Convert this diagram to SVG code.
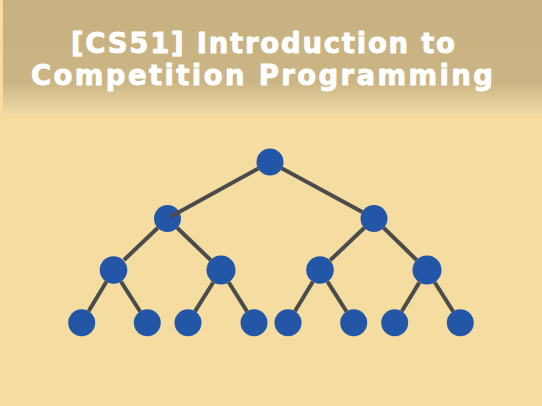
<svg xmlns="http://www.w3.org/2000/svg" width="542" height="406" viewBox="0 0 542 406">
<defs>
<linearGradient id="hdr" x1="0" y1="0" x2="0" y2="1">
<stop offset="0" stop-color="#c7b181"/>
<stop offset="0.72" stop-color="#cbb585"/>
<stop offset="1" stop-color="#efd9a4"/>
</linearGradient>
<style>
.t{font-family:"DejaVu Sans",sans-serif;font-weight:700;font-size:27.5px;fill:#ffffff;stroke:#ffffff;stroke-width:0.9;stroke-linejoin:round;text-anchor:middle}
.n{fill:#2456a8}
.e line{stroke:#4b4b4b;stroke-width:4;stroke-linecap:butt}
</style>
</defs>
<rect width="542" height="406" fill="#f5dca0"/>
<rect x="3" y="0" width="539" height="114" fill="url(#hdr)"/>
<text class="t" x="263" y="52.5" textLength="384" lengthAdjust="spacing">[CS51] Introduction to</text>
<text class="t" x="262" y="85" textLength="462" lengthAdjust="spacing">Competition Programming</text>
<g id="nodes">
<g id="n0"><circle class="n" cx="270" cy="162" r="13.5"/></g>
<g id="n1"><circle class="n" cx="167.5" cy="218.5" r="13.5"/></g>
<g id="n2"><circle class="n" cx="374" cy="218.5" r="13.5"/></g>
<g id="n3"><circle class="n" cx="113.5" cy="270" r="13.8"/></g>
<g id="n4"><circle class="n" cx="221" cy="270" r="14.5"/></g>
<g id="n5"><circle class="n" cx="320" cy="270" r="13.8"/></g>
<g id="n6"><circle class="n" cx="427" cy="270" r="14.5"/></g>
<g id="n7"><circle class="n" cx="81.7" cy="322.7" r="13.5"/></g>
<g id="n8"><circle class="n" cx="147.3" cy="322.7" r="13.5"/></g>
<g id="n9"><circle class="n" cx="188" cy="322.7" r="13.5"/></g>
<g id="n10"><circle class="n" cx="254" cy="322.7" r="13.5"/></g>
<g id="n11"><circle class="n" cx="288" cy="322.7" r="13.5"/></g>
<g id="n12"><circle class="n" cx="353.7" cy="322.7" r="13.5"/></g>
<g id="n13"><circle class="n" cx="394.7" cy="322.7" r="13.5"/></g>
<g id="n14"><circle class="n" cx="460.3" cy="322.7" r="13.5"/></g>
</g>
<g id="connectors" class="e">
<line x1="258.3" y1="168.4" x2="170.5" y2="216.8"/>
<line x1="281.7" y1="168.3" x2="362.3" y2="212.1"/>
<line x1="157.9" y1="227.7" x2="124" y2="260"/>
<line x1="177.1" y1="227.7" x2="210.6" y2="260"/>
<line x1="364.4" y1="227.7" x2="330.2" y2="260.3"/>
<line x1="383.6" y1="227.7" x2="416.6" y2="260"/>
<line x1="106.4" y1="281.8" x2="88.6" y2="311.3"/>
<line x1="121" y1="281.6" x2="140.1" y2="311.5"/>
<line x1="213.3" y1="282.3" x2="195" y2="311.4"/>
<line x1="228.7" y1="282.3" x2="247" y2="311.4"/>
<line x1="312.8" y1="281.8" x2="294.9" y2="311.3"/>
<line x1="327.5" y1="281.6" x2="346.5" y2="311.5"/>
<line x1="419.4" y1="282.4" x2="401.8" y2="311.2"/>
<line x1="434.7" y1="282.3" x2="453.2" y2="311.5"/>
</g>
</svg>
